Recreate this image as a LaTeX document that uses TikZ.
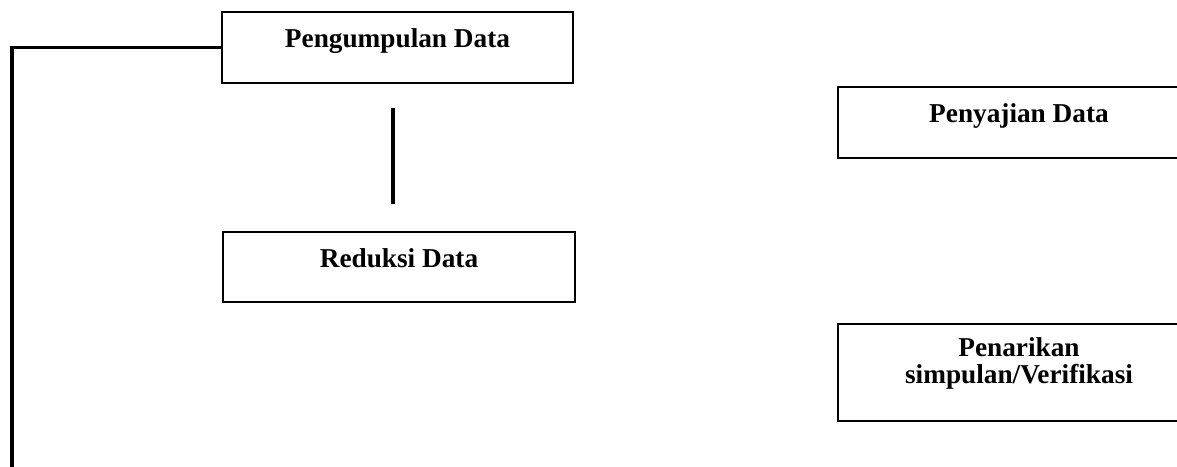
\documentclass[tikz,border=0pt]{standalone}
\usepackage{fontspec}
\setmainfont{Liberation Serif}

\tikzset{
  kotak/.style={draw, line width=0.9pt, inner sep=0pt,
    text height=15.8pt, text depth=15.4pt,
    font=\fontsize{12pt}{12pt}\selectfont\bfseries},
  garis/.style={line width=1.7pt}
}

\begin{document}
\begin{tikzpicture}[x=0.44pt, y=-0.44pt]
  \useasboundingbox (0,0) rectangle (1177,466);
  \clip (0,0) rectangle (1177,466);

  % kotak kiri
  \node[kotak, minimum width=154.4pt] (kumpul) at (397.5,47.5) {Pengumpulan Data};
  \node[kotak, minimum width=154.9pt] (reduksi) at (399,267) {Reduksi Data};

  % kotak kanan
  \node[kotak, minimum width=159.3pt] (sajian) at (1019,122.5) {Penyajian Data};
  \node[kotak, minimum width=159.3pt, align=center,
    text height=26.4pt, text depth=16.3pt] (tarik) at (1019,372.5)
    {Penarikan\\simpulan/Verifikasi};

  % garis
  \coordinate (ujung) at (12,470);
  \coordinate (atas) at (393,108);
  \coordinate (bawah) at (393,204);
  \draw[garis] (kumpul.west) -| (ujung);
  \draw[garis] (atas) -- (bawah);
\end{tikzpicture}
\end{document}
